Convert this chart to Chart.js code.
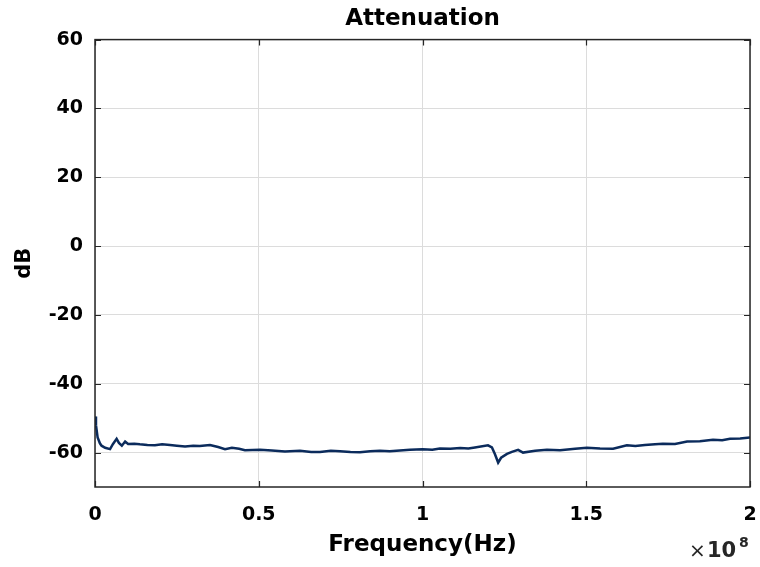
<!DOCTYPE html>
<html>
<head>
<meta charset="utf-8">
<script src="https://cdn.jsdelivr.net/npm/chart.js@4/dist/chart.umd.min.js"></script>
<style>
html,body{margin:0;padding:0;background:#fff;}
#wrap{width:760px;height:567px;position:relative;}
</style>
</head>
<body>
<div id="wrap"><canvas id="c" width="760" height="567"></canvas></div>
<script>
// Frequency in units of 1e8 Hz
const freq = [0,0.003,0.008,0.015,0.02,0.031,0.046,0.055,0.066,0.073,0.082,0.092,0.101,0.12,0.137,0.16,0.183,0.205,0.229,0.25,0.275,0.3,0.32,0.351,0.376,0.397,0.418,0.44,0.458,0.504,0.54,0.58,0.626,0.66,0.687,0.72,0.748,0.78,0.809,0.84,0.87,0.9,0.931,0.962,1.0,1.03,1.053,1.085,1.115,1.14,1.16,1.2,1.212,1.221,1.231,1.24,1.258,1.273,1.292,1.307,1.344,1.38,1.42,1.466,1.502,1.542,1.582,1.624,1.65,1.679,1.71,1.734,1.771,1.808,1.847,1.887,1.915,1.939,1.97,2.0];
const attenuationDb = [-49.5,-52,-55.6,-57.3,-58,-58.6,-59,-57.5,-56,-57.2,-58,-56.8,-57.5,-57.4,-57.6,-57.8,-57.9,-57.6,-57.8,-58.0,-58.2,-58.0,-58.1,-57.8,-58.4,-59,-58.6,-58.9,-59.3,-59.2,-59.4,-59.7,-59.5,-59.8,-59.8,-59.5,-59.6,-59.8,-59.9,-59.6,-59.5,-59.6,-59.4,-59.2,-59,-59.2,-58.8,-58.9,-58.7,-58.8,-58.5,-57.9,-58.5,-60.4,-62.9,-61.5,-60.4,-59.8,-59.2,-60,-59.5,-59.2,-59.3,-58.9,-58.6,-58.8,-58.9,-57.9,-58.1,-57.8,-57.6,-57.4,-57.5,-56.8,-56.7,-56.3,-56.4,-56.0,-55.9,-55.6];
const xTicks = [0,0.5,1,1.5,2];
const yTicks = [60,40,20,0,-20,-40,-60];

const pts = freq.map((f,i)=>({x:f,y:attenuationDb[i]}));
const FONT = '"DejaVu Sans", "Liberation Sans", Arial, sans-serif';

const boxPlugin = {
  id:'box',
  afterDraw(chart){
    const {ctx, chartArea:a, scales} = chart;
    ctx.save();
    ctx.strokeStyle = '#262626';
    ctx.lineWidth = 1.2;
    ctx.beginPath();
    xTicks.forEach(v=>{
      const px = Math.round(scales.x.getPixelForValue(v))+0.5;
      ctx.moveTo(px,a.bottom); ctx.lineTo(px,a.bottom-6);
      ctx.moveTo(px,a.top); ctx.lineTo(px,a.top+6);
    });
    yTicks.forEach(v=>{
      const py = Math.round(scales.y.getPixelForValue(v))+0.5;
      ctx.moveTo(a.left,py); ctx.lineTo(a.left+6,py);
      ctx.moveTo(a.right,py); ctx.lineTo(a.right-6,py);
    });
    ctx.stroke();
    ctx.lineWidth = 1.5;
    ctx.strokeRect(a.left, a.top, a.right-a.left, a.bottom-a.top);
    ctx.fillStyle = '#262626';
    ctx.textAlign = 'left';
    ctx.textBaseline = 'alphabetic';
    ctx.font = '20px ' + FONT;
    ctx.fillText('\u00d7', 689, 557);
    ctx.font = 'bold 21px ' + FONT;
    ctx.fillText('10', 707, 557);
    ctx.font = 'bold 14px ' + FONT;
    ctx.fillText('8', 739, 547);
    ctx.restore();
  }
};

new Chart(document.getElementById('c'), {
  type:'line',
  data:{datasets:[{data:pts, borderColor:'#0b2b5c', borderWidth:2.5, pointRadius:0, tension:0, fill:false}]},
  options:{
    responsive:false, animation:false,
    layout:{padding:{top:0,right:10,left:0,bottom:0}},
    plugins:{
      legend:{display:false}, tooltip:{enabled:false},
      title:{display:true, fullSize:false, text:'Attenuation', color:'#000', font:{family:FONT, size:23, weight:'bold'}, padding:{top:5,bottom:7}}
    },
    scales:{
      x:{type:'linear', min:0, max:2,
        afterBuildTicks(s){ s.ticks = xTicks.map(v=>({value:v})); },
        afterFit(s){ s.height = 80; s.paddingRight = 0; s.paddingLeft = 0; },
        grid:{color:'#dcdcdc', lineWidth:1, drawTicks:false},
        border:{display:false},
        ticks:{color:'#000', padding:17, font:{family:FONT, size:19, weight:'bold'}, callback:v=>String(v), maxRotation:0},
        title:{display:true, text:'Frequency(Hz)', color:'#000', font:{family:FONT, size:23, weight:'bold'}, padding:{top:4,bottom:8}}
      },
      y:{min:-70, max:60,
        afterBuildTicks(s){ s.ticks = yTicks.map(v=>({value:v})); },
        afterFit(s){ s.width = 95; s.paddingTop = 0; s.paddingBottom = 0; },
        grid:{color:'#dcdcdc', lineWidth:1, drawTicks:false},
        border:{display:false},
        ticks:{color:'#000', padding:12, font:{family:FONT, size:19, weight:'bold'}},
        title:{display:true, text:'dB', color:'#000', font:{family:FONT, size:21, weight:'bold'}, padding:{top:12,bottom:4}}
      }
    }
  },
  plugins:[boxPlugin]
});
</script>
</body>
</html>
